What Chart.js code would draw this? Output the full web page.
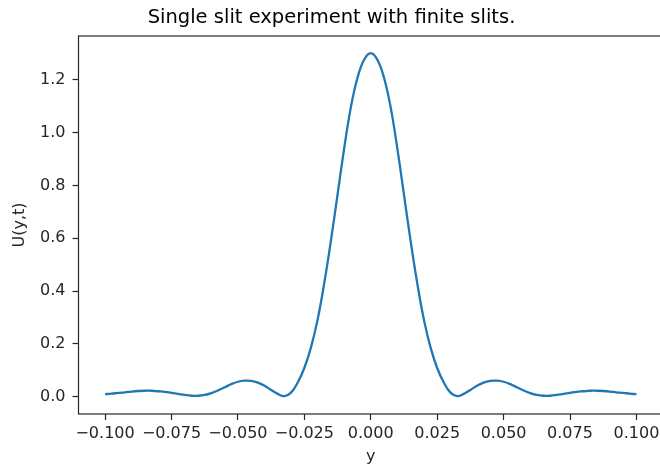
<!DOCTYPE html>
<html>
<head>
<meta charset="utf-8">
<script src="https://cdn.jsdelivr.net/npm/chart.js@4/dist/chart.umd.min.js"></script>
<style>
  html, body { margin: 0; padding: 0; background: #fff; overflow: hidden; }
  #wrap { width: 666px; height: 471px; }
</style>
</head>
<body>
<div id="wrap"><canvas id="slitChart" width="666" height="471"></canvas></div>
<script>
// positions along the screen (y) and the intensity
const positions = [
  -0.1000, -0.0975, -0.0950, -0.0925, -0.0900, -0.0875, -0.0850, -0.0825, -0.0800, -0.0775,
  -0.0750, -0.0725, -0.0700, -0.0675, -0.0650, -0.0625, -0.0600, -0.0575, -0.0550, -0.0525,
  -0.0500, -0.0475, -0.0450, -0.0425, -0.0400, -0.0375, -0.0350, -0.0325, -0.0300, -0.0275,
  -0.0250, -0.0225, -0.0200, -0.0175, -0.0150, -0.0125, -0.0100, -0.0075, -0.0050, -0.0025,
   0.0000,
   0.0025,  0.0050,  0.0075,  0.0100,  0.0125,  0.0150,  0.0175,  0.0200,  0.0225,  0.0250,
   0.0275,  0.0300,  0.0325,  0.0350,  0.0375,  0.0400,  0.0425,  0.0450,  0.0475,  0.0500,
   0.0525,  0.0550,  0.0575,  0.0600,  0.0625,  0.0650,  0.0675,  0.0700,  0.0725,  0.0750,
   0.0775,  0.0800,  0.0825,  0.0850,  0.0875,  0.0900,  0.0925,  0.0950,  0.0975,  0.1000
];
const intensity = [
  0.010, 0.012, 0.015, 0.017, 0.020, 0.022, 0.023, 0.023, 0.021, 0.019,
  0.015, 0.011, 0.007, 0.004, 0.004, 0.007, 0.014, 0.024, 0.036, 0.048,
  0.057, 0.061, 0.060, 0.054, 0.042, 0.026, 0.011, 0.003, 0.016, 0.054,
  0.109, 0.187, 0.292, 0.430, 0.590, 0.765, 0.940, 1.095, 1.207, 1.275,
  1.300,
  1.275, 1.207, 1.095, 0.940, 0.765, 0.590, 0.430, 0.292, 0.187, 0.109,
  0.054, 0.016, 0.003, 0.011, 0.026, 0.042, 0.054, 0.060, 0.061, 0.057,
  0.048, 0.036, 0.024, 0.014, 0.007, 0.004, 0.004, 0.007, 0.011, 0.015,
  0.019, 0.021, 0.023, 0.023, 0.022, 0.020, 0.017, 0.015, 0.012, 0.010
];
const xTicks = [-0.1, -0.075, -0.05, -0.025, 0, 0.025, 0.05, 0.075, 0.1];
const yTicks = [0, 0.2, 0.4, 0.6, 0.8, 1.0, 1.2];

const FONT = "'DejaVu Sans', sans-serif";
const INK = '#262626';

// matplotlib style box around the axes
const spines = {
  id: 'spines',
  afterDraw(chart) {
    const { ctx, chartArea: a } = chart;
    ctx.save();
    ctx.strokeStyle = INK;
    ctx.lineWidth = 1.2;
    ctx.strokeRect(a.left, a.top, a.right - a.left, a.bottom - a.top);
    ctx.restore();
  }
};

const points = positions.map((p, i) => ({ x: p, y: intensity[i] }));

new Chart(document.getElementById('slitChart').getContext('2d'), {
  type: 'line',
  data: {
    datasets: [{
      data: points,
      borderColor: '#1f77b4',
      borderWidth: 2.3,
      pointRadius: 0,
      fill: false,
      tension: 0.4
    }]
  },
  options: {
    responsive: false,
    animation: false,
    layout: { padding: { left: 0, right: 3, top: 0, bottom: 0 } },
    plugins: {
      legend: { display: false },
      tooltip: { enabled: false },
      title: {
        display: true,
        text: 'Single slit experiment with finite slits.',
        color: '#000',
        font: { family: FONT, size: 19.5, weight: 'normal' },
        padding: { top: 6, bottom: 6.6 }
      }
    },
    scales: {
      x: {
        type: 'linear',
        min: -0.11,
        max: 0.11,
        afterBuildTicks: s => { s.ticks = xTicks.map(v => ({ value: v })); },
        afterFit: s => { s.height = 57; },
        grid: { drawOnChartArea: false, drawTicks: true, tickLength: 6, tickColor: INK, tickWidth: 1.2 },
        border: { display: false },
        ticks: {
          color: INK,
          padding: 4,
          maxRotation: 0,
          autoSkip: false,
          font: { family: FONT, size: 16 },
          callback: v => (v < -1e-9 ? '\u2212' : '') + Math.abs(v).toFixed(3)
        },
        title: {
          display: true,
          text: 'y',
          color: INK,
          font: { family: FONT, size: 16 },
          padding: { top: 0, bottom: 5 }
        }
      },
      y: {
        type: 'linear',
        min: -0.065,
        max: 1.365,
        afterBuildTicks: s => { s.ticks = yTicks.map(v => ({ value: v })); },
        afterFit: s => { s.width = 78.5; },
        grid: { drawOnChartArea: false, drawTicks: true, tickLength: 6, tickColor: INK, tickWidth: 1.2 },
        border: { display: false },
        ticks: {
          color: INK,
          padding: 7,
          autoSkip: false,
          font: { family: FONT, size: 16 },
          callback: v => v.toFixed(1)
        },
        title: {
          display: true,
          text: 'U(y,t)',
          color: INK,
          font: { family: FONT, size: 16 },
          padding: { top: 10, bottom: 0 }
        }
      }
    }
  },
  plugins: [spines]
});
</script>
</body>
</html>
